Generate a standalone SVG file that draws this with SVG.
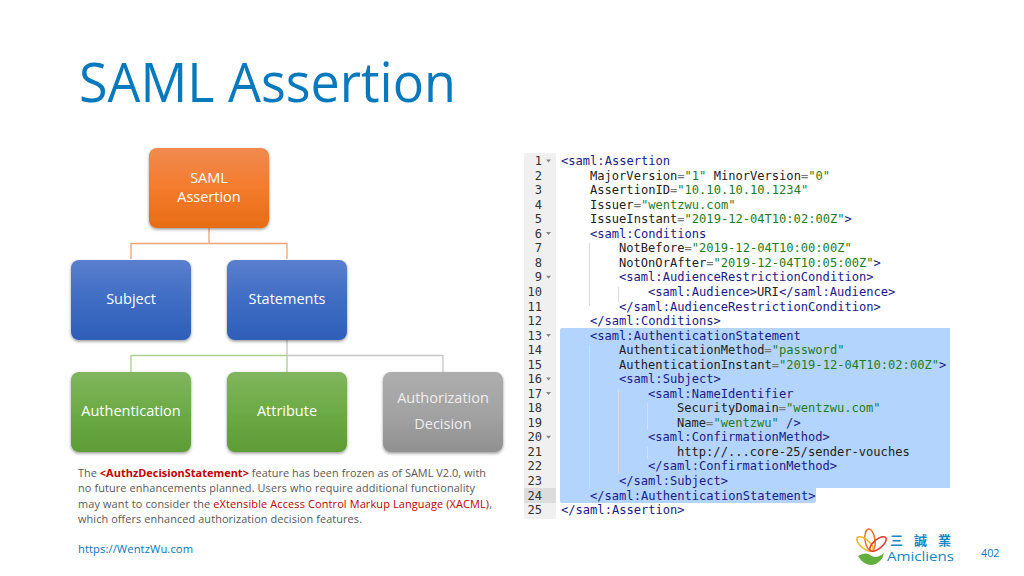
<svg xmlns="http://www.w3.org/2000/svg" width="1024" height="576" viewBox="0 0 1024 576">
<defs>
<linearGradient id="gO" x1="0" y1="0" x2="0" y2="1"><stop offset="0" stop-color="#f08a50"/><stop offset=".5" stop-color="#f47b2c"/><stop offset="1" stop-color="#e66c14"/></linearGradient>
<linearGradient id="gB" x1="0" y1="0" x2="0" y2="1"><stop offset="0" stop-color="#5a7fce"/><stop offset=".5" stop-color="#3f6cc4"/><stop offset="1" stop-color="#2e5fb8"/></linearGradient>
<linearGradient id="gG" x1="0" y1="0" x2="0" y2="1"><stop offset="0" stop-color="#80b55e"/><stop offset=".5" stop-color="#6cab45"/><stop offset="1" stop-color="#5d9c35"/></linearGradient>
<linearGradient id="gA" x1="0" y1="0" x2="0" y2="1"><stop offset="0" stop-color="#adadad"/><stop offset=".5" stop-color="#a3a3a3"/><stop offset="1" stop-color="#909090"/></linearGradient>
<filter id="sh" x="-10%" y="-10%" width="120%" height="125%"><feDropShadow dx="0" dy="1.5" stdDeviation="1.8" flood-color="#000" flood-opacity=".4"/></filter>
</defs>
<style>
text{font-family:"Open Sans","Noto Sans",sans-serif}
.box{filter:url(#sh)}
.lbl{fill:#fff;font-size:14.5px;text-anchor:middle}
.gl{fill:#ededed;font-size:14.5px;text-anchor:middle}
.con{fill:none;stroke-width:1.3}
.code{font-family:"DejaVu Sans Mono","Liberation Mono",monospace;font-size:12.08px;fill:#222;white-space:pre}
.n{font-family:"DejaVu Sans Mono","Liberation Mono",monospace;font-size:12.08px;fill:#333;text-anchor:end}
.t{fill:#1a1a8c}.e{fill:#777}.v{fill:#1e7d22}
.fold{fill:#888}
.p{font-size:10.9px;fill:#595959}
.r{fill:#c00000}
</style>
<rect width="1024" height="576" fill="#fff"/>
<text x="79" y="102" font-size="54" fill="#0979bd" textLength="377" lengthAdjust="spacingAndGlyphs">SAML Assertion</text>

<g id="connectors">
<path class="con" stroke="#f0a274" d="M209 228V243.500M131 259V243.500H287V259"/>
<path class="con" stroke="#a9cf92" d="M131 372V355.500H287V372"/>
<path class="con" stroke="#c4c4c4" d="M287 340V355.500H443V372"/>
</g>

<g id="node-saml-assertion"><rect class="box" x="149" y="148" width="120" height="80" rx="8" fill="url(#gO)"/><text class="lbl" x="209" y="183">SAML</text><text class="lbl" x="209" y="202">Assertion</text></g>
<g id="node-subject"><rect class="box" x="71" y="260" width="120" height="80" rx="8" fill="url(#gB)"/><text class="lbl" x="131" y="304">Subject</text></g>
<g id="node-statements"><rect class="box" x="227" y="260" width="120" height="80" rx="8" fill="url(#gB)"/><text class="lbl" x="287" y="304">Statements</text></g>
<g id="node-authentication"><rect class="box" x="71" y="372" width="120" height="80" rx="8" fill="url(#gG)"/><text class="lbl" x="131" y="416">Authentication</text></g>
<g id="node-attribute"><rect class="box" x="227" y="372" width="120" height="80" rx="8" fill="url(#gG)"/><text class="lbl" x="287" y="416">Attribute</text></g>
<g id="node-authorization-decision"><rect class="box" x="383" y="372" width="120" height="80" rx="8" fill="url(#gA)"/><text class="gl" x="443" y="403">Authorization</text><text class="gl" x="443" y="429">Decision</text></g>

<text class="p" x="78" y="477" textLength="408">The <tspan class="r" font-weight="700">&lt;AuthzDecisionStatement&gt;</tspan> feature has been frozen as of SAML V2.0, with</text>
<text class="p" x="78" y="492" textLength="397">no future enhancements planned. Users who require additional functionality</text>
<text class="p" x="78" y="507.500" textLength="414">may want to consider the <tspan class="r">eXtensible Access Control Markup Language (XACML)</tspan>,</text>
<text class="p" x="78" y="523" textLength="284">which offers enhanced authorization decision features.</text>
<text x="78" y="553" font-size="11.200" fill="#0979bd" textLength="115">https://WentzWu.com</text>

<g id="code">
<rect x="524" y="153" width="32" height="366" fill="#f0f0f0"/>
<rect x="524" y="488" width="32" height="15" fill="#dcdcdc"/>
<path fill="#b3d4fd" d="M562 328H950V488H816V501Q816 503 814 503H562Q560 503 560 501V330Q560 328 562 328Z"/>
<path fill="none" stroke="#dedede" d="M589.500 243V306M618.500 287V302M589.500 345V488M618.500 389V474M647.500 403V430M647.500 447V459"/>
<g class="n">
<text class="n" x="542" y="165">1</text><text class="n" x="542" y="179.600">2</text><text class="n" x="542" y="194.100">3</text><text class="n" x="542" y="208.700">4</text><text class="n" x="542" y="223.200">5</text><text class="n" x="542" y="237.700">6</text><text class="n" x="542" y="252.300">7</text><text class="n" x="542" y="266.800">8</text><text class="n" x="542" y="281.400">9</text><text class="n" x="542" y="295.900">10</text><text class="n" x="542" y="310.500">11</text><text class="n" x="542" y="325">12</text><text class="n" x="542" y="339.500">13</text><text class="n" x="542" y="354.100">14</text><text class="n" x="542" y="368.600">15</text><text class="n" x="542" y="383.200">16</text><text class="n" x="542" y="397.700">17</text><text class="n" x="542" y="412.300">18</text><text class="n" x="542" y="426.800">19</text><text class="n" x="542" y="441.300">20</text><text class="n" x="542" y="455.900">21</text><text class="n" x="542" y="470.400">22</text><text class="n" x="542" y="485">23</text><text class="n" x="542" y="499.500">24</text><text class="n" x="542" y="514">25</text>
</g>
<path class="fold" d="M546 159.500h5l-2.500 3zM546 232h5l-2.500 3zM546 275.700h5l-2.500 3zM546 334h5l-2.500 3zM546 377.500h5l-2.500 3zM546 392h5l-2.500 3zM546 435.700h5l-2.500 3z"/>
<text class="code" x="561" y="165"><tspan class="t">&lt;saml:Assertion</tspan></text>
<text class="code" x="590" y="179.600">MajorVersion<tspan class="e">=</tspan><tspan class="v">"1"</tspan> MinorVersion<tspan class="e">=</tspan><tspan class="v">"0"</tspan></text>
<text class="code" x="590" y="194.100">AssertionID<tspan class="e">=</tspan><tspan class="v">"10.10.10.10.1234"</tspan></text>
<text class="code" x="590" y="208.700">Issuer<tspan class="e">=</tspan><tspan class="v">"wentzwu.com"</tspan></text>
<text class="code" x="590" y="223.200">IssueInstant<tspan class="e">=</tspan><tspan class="v">"2019-12-04T10:02:00Z"</tspan><tspan class="t">&gt;</tspan></text>
<text class="code" x="590" y="237.700"><tspan class="t">&lt;saml:Conditions</tspan></text>
<text class="code" x="619" y="252.300">NotBefore<tspan class="e">=</tspan><tspan class="v">"2019-12-04T10:00:00Z"</tspan></text>
<text class="code" x="619" y="266.800">NotOnOrAfter<tspan class="e">=</tspan><tspan class="v">"2019-12-04T10:05:00Z"</tspan><tspan class="t">&gt;</tspan></text>
<text class="code" x="619" y="281.400"><tspan class="t">&lt;saml:AudienceRestrictionCondition&gt;</tspan></text>
<text class="code" x="648" y="295.900"><tspan class="t">&lt;saml:Audience&gt;</tspan>URI<tspan class="t">&lt;/saml:Audience&gt;</tspan></text>
<text class="code" x="619" y="310.500"><tspan class="t">&lt;/saml:AudienceRestrictionCondition&gt;</tspan></text>
<text class="code" x="590" y="325"><tspan class="t">&lt;/saml:Conditions&gt;</tspan></text>
<text class="code" x="590" y="339.500"><tspan class="t">&lt;saml:AuthenticationStatement</tspan></text>
<text class="code" x="619" y="354.100">AuthenticationMethod<tspan class="e">=</tspan><tspan class="v">"password"</tspan></text>
<text class="code" x="619" y="368.600">AuthenticationInstant<tspan class="e">=</tspan><tspan class="v">"2019-12-04T10:02:00Z"</tspan><tspan class="t">&gt;</tspan></text>
<text class="code" x="619" y="383.200"><tspan class="t">&lt;saml:Subject&gt;</tspan></text>
<text class="code" x="648" y="397.700"><tspan class="t">&lt;saml:NameIdentifier</tspan></text>
<text class="code" x="677" y="412.300">SecurityDomain<tspan class="e">=</tspan><tspan class="v">"wentzwu.com"</tspan></text>
<text class="code" x="677" y="426.800">Name<tspan class="e">=</tspan><tspan class="v">"wentzwu"</tspan> <tspan class="t">/&gt;</tspan></text>
<text class="code" x="648" y="441.300"><tspan class="t">&lt;saml:ConfirmationMethod&gt;</tspan></text>
<text class="code" x="677" y="455.900">http://...core-25/sender-vouches</text>
<text class="code" x="648" y="470.400"><tspan class="t">&lt;/saml:ConfirmationMethod&gt;</tspan></text>
<text class="code" x="619" y="485"><tspan class="t">&lt;/saml:Subject&gt;</tspan></text>
<text class="code" x="590" y="499.500"><tspan class="t">&lt;/saml:AuthenticationStatement&gt;</tspan></text>
<text class="code" x="561" y="514"><tspan class="t">&lt;/saml:Assertion&gt;</tspan></text>
</g>

<g id="logo">
<g fill="none" stroke-width="1.5">
<ellipse cx="870" cy="540" rx="5" ry="11" stroke="#e8722c" transform="rotate(-8 870 540)"/>
<ellipse cx="865" cy="544" rx="4.500" ry="10" stroke="#f2b632" transform="rotate(-50 865 544)"/>
<ellipse cx="878" cy="544" rx="4.500" ry="10" stroke="#e63a2e" transform="rotate(50 878 544)"/>
</g>
<path d="M858 556Q866 551 872 556Q877 559 884 553Q882 563 872 565Q863 565 858 556Z" fill="#62ae3c"/>
<text x="890" y="545" font-size="13" font-weight="700" fill="#1487c4" letter-spacing="11" style="font-family:'Noto Sans CJK TC','Noto Sans CJK SC',sans-serif">三誠業</text>
<text x="887" y="561" font-size="13.500" fill="#1487c4" textLength="67" lengthAdjust="spacingAndGlyphs">Amicliens</text>
</g>
<text x="981" y="557" font-size="10.800" fill="#0979bd">402</text>
</svg>
